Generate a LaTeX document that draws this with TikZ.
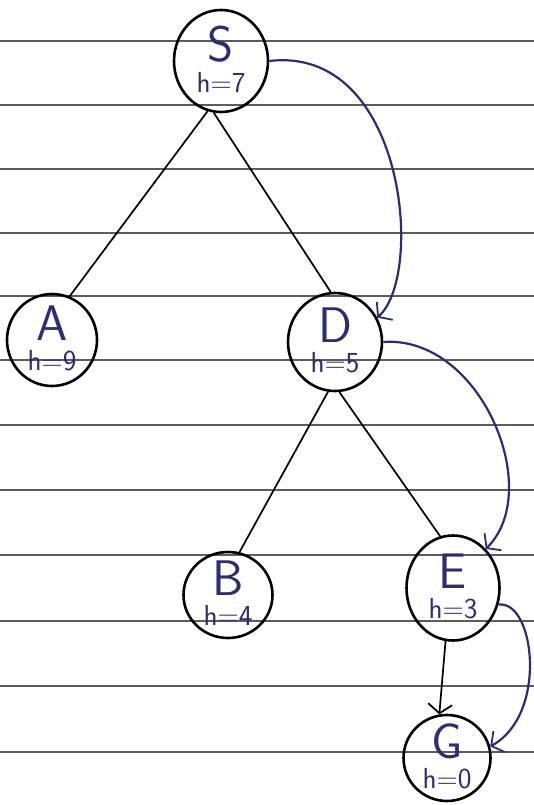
\documentclass[tikz,border=0pt]{standalone}
\usetikzlibrary{shapes.geometric,arrows.meta}
\definecolor{ink}{HTML}{2E2D70}
\definecolor{ruleline}{HTML}{5C5C5C}
\newcommand\nodetext[2]{\begin{tabular}{@{}c@{}}\fontsize{50}{52}\selectfont #1\\[7pt]\fontsize{29}{31}\selectfont h=#2\end{tabular}}
\begin{document}
\begin{tikzpicture}[x=1pt,y=-1pt,
  state/.style={ellipse,draw=black,line width=2.6pt,inner sep=-16pt,text=ink,font=\sffamily},
  edge/.style={draw=black,line width=1.7pt},
  tip/.style={-{Straight Barb[length=9pt,width=24pt,line width=1.8pt]}},
  trace/.style={draw=ink,line width=2.2pt,tip},
  paper/.style={draw=ruleline,line width=1.3pt}]
\useasboundingbox (0,0) rectangle (534,805);
\fill[white] (0,0) rectangle (534,805);
\foreach \y in {41,105,169,233,296,360,425,490,555,621,686,752}
  \draw[paper] (0,\y) -- (534,\y);

\node[state,minimum width=94pt,minimum height=102pt] (S) at (221,61) {\nodetext{S}{7}};
\node[state,minimum width=90pt,minimum height=92pt]  (A) at (52,340)  {\nodetext{A}{9}};
\node[state,minimum width=94pt,minimum height=98pt]  (D) at (335,342) {\nodetext{D}{5}};
\node[state,minimum width=89pt,minimum height=86pt]  (B) at (228,595) {\nodetext{B}{4}};
\node[state,minimum width=93pt,minimum height=105pt] (E) at (453,588) {\nodetext{E}{3}};
\node[state,minimum width=87pt,minimum height=86pt]  (G) at (447,758) {\nodetext{G}{0}};

\draw[edge] (S.255) -- (A.68);
\draw[edge] (S.262) -- (D.95);
\draw[edge] (D.262) -- (B.75);
\draw[edge] (D.275) -- (E.104);
\draw[edge,tip] (E.262) -- (G.100);

\draw[trace] (S.0) .. controls (405,45) and (425,275) .. (D.30);
\draw[trace] (D.0) .. controls (480,335) and (545,490) .. (E.50);
\draw[trace] (E.-20) .. controls (535,600) and (548,715) .. (G.15);
\end{tikzpicture}
\end{document}
